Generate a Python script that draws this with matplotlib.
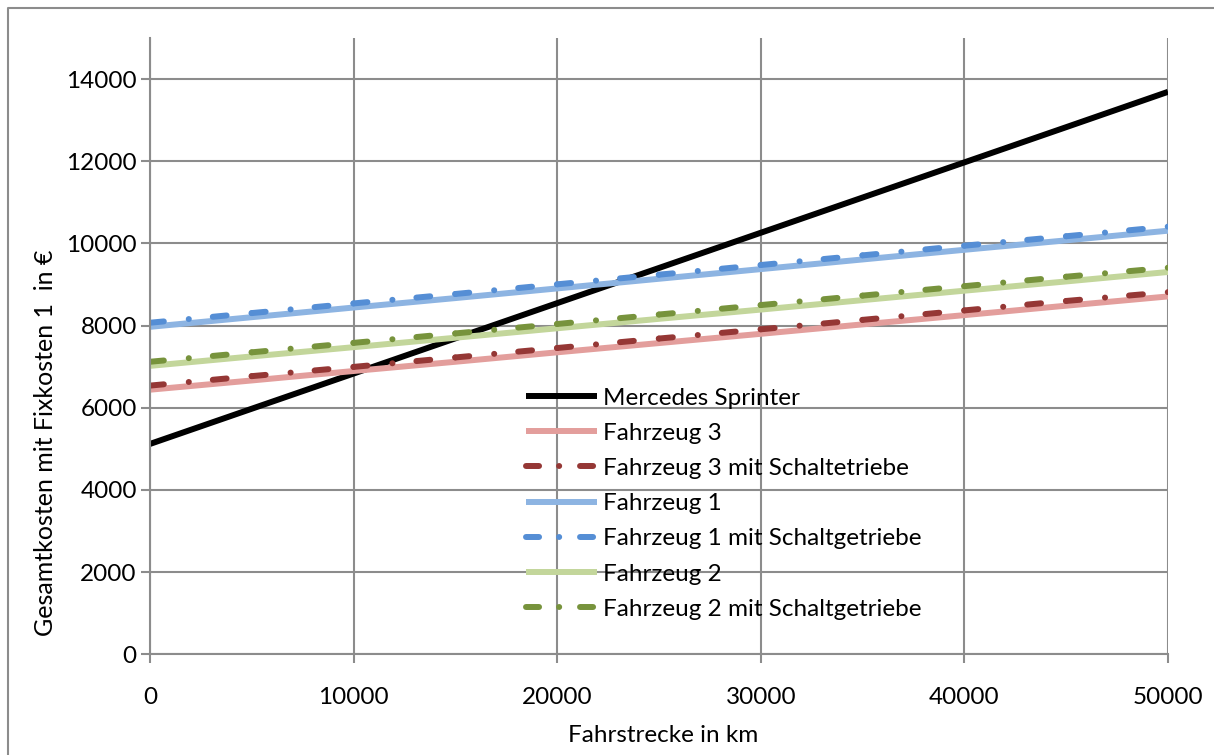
import matplotlib.pyplot as plt
from matplotlib.lines import Line2D

plt.rcParams['font.family'] = ['Lato', 'DejaVu Sans']
plt.rcParams['lines.scale_dashes'] = False

# --- Daten (Gesamtkosten in Euro je Fahrstrecke) ---
km = [0, 5000, 10000, 15000, 20000, 25000, 30000, 35000, 40000, 45000, 50000]
sprinter = [5120, 5977, 6833, 7690, 8547, 9403, 10260, 11117, 11973, 12830, 13690]
fz3 = [6440, 6665, 6895, 7120, 7350, 7575, 7800, 8030, 8255, 8485, 8710]
fz3_sg = [6540, 6770, 6995, 7225, 7455, 7685, 7910, 8140, 8370, 8600, 8815]
fz1 = [7970, 8205, 8440, 8670, 8905, 9140, 9375, 9610, 9845, 10075, 10310]
fz1_sg = [8070, 8305, 8540, 8770, 9005, 9240, 9475, 9710, 9945, 10175, 10410]
fz2 = [7020, 7250, 7475, 7705, 7935, 8165, 8390, 8620, 8850, 9075, 9305]
fz2_sg = [7120, 7350, 7580, 7810, 8040, 8270, 8500, 8730, 8960, 9190, 9410]

x_ticks = [0, 10000, 20000, 30000, 40000, 50000]
y_ticks = [0, 2000, 4000, 6000, 8000, 10000, 12000, 14000]

GRAU = '#8c8c8c'
LW = 4.3
FS = 17.5
DASH_PLOT = (0, (10, 18, 0.1, 17.3))
DASH_LEG = (0, (9.4, 14.4, 0.1, 15))

serien = [
    ('Mercedes Sprinter', sprinter, 'black', False),
    ('Fahrzeug 3', fz3, '#E39E9C', False),
    ('Fahrzeug 3 mit Schaltetriebe', fz3_sg, '#953735', True),
    ('Fahrzeug 1', fz1, '#8DB4E2', False),
    ('Fahrzeug 1 mit Schaltgetriebe', fz1_sg, '#558ED5', True),
    ('Fahrzeug 2', fz2, '#C3D69B', False),
    ('Fahrzeug 2 mit Schaltgetriebe', fz2_sg, '#77933C', True),
]

W, H = 1214, 755
fig = plt.figure(figsize=(W / 100, H / 100), dpi=100)
ax = fig.add_axes([150 / W, (H - 654.3) / H, 1018 / W, (654.3 - 38) / H])

handles = []
for name, werte, farbe, gestrichelt in serien:
    if gestrichelt:
        # Strichmuster beginnt in jedem Abschnitt neu
        for i in range(len(km) - 1):
            ax.plot(km[i:i + 2], werte[i:i + 2], color=farbe, lw=LW,
                    linestyle=DASH_PLOT, dash_capstyle='round')
        handles.append(Line2D([], [], color=farbe, lw=LW, linestyle=DASH_LEG,
                              dash_capstyle='round', label=name))
    else:
        ax.plot(km, werte, color=farbe, lw=LW, solid_capstyle='butt')
        handles.append(Line2D([], [], color=farbe, lw=LW,
                              solid_capstyle='butt', label=name))

ax.set_xlim(0, 50000)
ax.set_ylim(0, 15000)
ax.set_xticks(x_ticks)
ax.set_yticks(y_ticks)
ax.grid(True, color=GRAU, lw=1.5)
ax.set_axisbelow(True)
for s in ['top', 'right']:
    ax.spines[s].set_visible(False)
for s in ['left', 'bottom']:
    ax.spines[s].set_color(GRAU)
    ax.spines[s].set_linewidth(1.5)
ax.tick_params(length=6.5, width=1.5, color=GRAU, labelsize=FS)
ax.tick_params(axis='x', pad=17)
ax.tick_params(axis='y', pad=3)

fig.text(663 / W, 1 - 735 / H, 'Fahrstrecke in km', ha='center', va='center', fontsize=FS)
fig.text(46 / W, 1 - 443 / H, 'Gesamtkosten mit Fixkosten 1  in €', ha='center', va='center',
         rotation=90, fontsize=FS + 0.5)

ax.legend(handles=handles, loc='upper left',
          bbox_to_anchor=((526 - 150) / 1018, (654.3 - 387.5) / 616.3),
          frameon=False, fontsize=FS, handlelength=2.92, handletextpad=0.25,
          labelspacing=0.585, borderpad=0, borderaxespad=0)

# Rahmen um das Diagramm (links und oben)
fig.add_artist(Line2D([7.5 / W, 7.5 / W, 1], [0, 1 - 7.5 / H, 1 - 7.5 / H],
                      transform=fig.transFigure, color=GRAU, lw=1.5))

fig.savefig('out.png', dpi=100)
